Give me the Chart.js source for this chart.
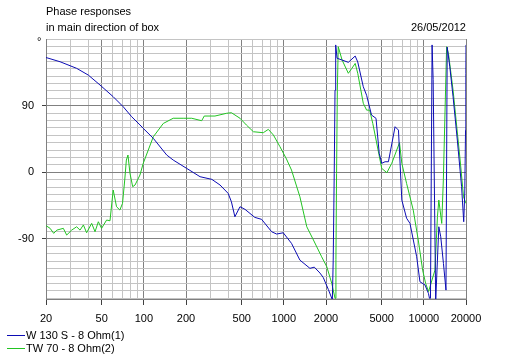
<!DOCTYPE html>
<html><head><meta charset="utf-8">
<script src="https://cdn.jsdelivr.net/npm/chart.js@4.4.1/dist/chart.umd.min.js"></script>
<style>
html,body{margin:0;padding:0;background:#fff;width:511px;height:361px;overflow:hidden;}
#wrap{position:relative;width:511px;height:361px;}
canvas{position:absolute;left:0;top:0;}
.t{position:absolute;font-family:"Liberation Sans",Arial,sans-serif;font-size:11px;line-height:13px;color:#000;white-space:nowrap;}
.ln{position:absolute;height:1px;width:18px;}
</style></head><body>
<div id="wrap">
<canvas id="c" width="511" height="361"></canvas>
<div class="t" style="left:46px;top:5px">Phase responses</div>
<div class="t" style="left:46px;top:21px">in main direction of box</div>
<div class="t" style="right:45px;top:21px">26/05/2012</div>
<div class="t" style="left:37px;top:35px">°</div>
<div id="legend"></div>
</div>
<script>
// ---- data ----
const seriesNames = ['W 130 S - 8 Ohm(1)', 'TW 70 - 8 Ohm(2)'];

const xTickValues = [20,30,40,50,60,70,80,90,100,200,300,400,500,600,700,800,900,
  1000,2000,3000,4000,5000,6000,7000,8000,9000,10000,20000];
const xTickLabels = [20,50,100,200,500,1000,2000,5000,10000,20000];
const yTickLabels = [-90,0,90];

const wooferFreq = [
  20,25.2,33.1,40.1,48.6,60.4,71.2,81.8,93.8,99,
  116.8,145.6,162,202,252,306,350,400,422,447,
  486,528,620,694,818,888,990,1134,1302,1536,
  1650,1812,1912,2077,2220,2252,2290,2320,2346,2400,
  2518,2888,3232,3371,3692,3901,4226,4552,4800,5000,
  5284,5582,6229,6588,6960,7529,7959,8886,9376,10185,
  10780,10965,11150,11450,11650,12150,12790,13200,13800,14390,
  14680,15320,16170,17340,18600,19260,19600,19850,19950,20000];
const wooferPhase = [
  155,149.3,140.4,131.3,117.9,102.1,88.6,75.1,64,59.4,
  45.9,23.4,16.6,5.4,-5.9,-9.5,-17.1,-28.4,-39.7,-60,
  -46.4,-50,-60.8,-63.5,-80.2,-83.3,-81.6,-95.9,-118.5,-129.6,
  -128,-136,-142,-158,-172,-118.5,-1.4,111,172,154,
  152.6,148.5,157,149,115.6,104,77.4,72.9,25.7,12.2,
  14.3,14.3,61.6,57,-37.4,-62,-68.9,-114,-147.7,-152,
  -163.4,-170,-170,172,125,-174,-73.5,-87,-123,-159,
  169,142.6,102,43.6,-19.4,-66.7,-28,57,133.7,172];

const tweeterFreq = [
  20,21.4,22.7,23.9,26.6,28.1,30.5,33.1,35.0,37.0,
  39.0,42.4,44.8,47.3,49.9,54.2,57.3,60.4,63.8,67.4,
  70.4,73.0,75.0,77.0,79.6,83.2,86.5,93.8,99,116.8,
  137.7,162,190.8,219.6,259,270,322,390,422,486,
  540,606,713,775,842,938,1044,1134,1302,1458,
  1627,1862,2027,2200,2320,2355,2380,2410,2446,2606,
  2888,3050,3232,3371,3692,3901,4100,4318,5000,5440,
  5900,6700,6960,7529,8400,9120,9800,10300,10800,12000,
  12500,12790,13420,13780,14540,15000,16170,18160,19200,20000];
const tweeterPhase = [
  -72,-75.6,-82.4,-78,-75.6,-84.7,-78,-73.5,-78,-71,
  -81.6,-68.9,-80.2,-66.7,-75.6,-64.4,-65.4,-23.9,-46.4,-50.9,
  -41.9,-10.4,16.6,23.4,-1.4,-19.4,-17.1,-3.6,12.2,48,
  66,73,73,73,69.7,76,76,79.7,80.5,73,
  63.9,54.8,53.5,58,50.4,34.6,18,3.1,-33,-73.5,
  -91.4,-114,-127.5,-150,-170,-118,-1.4,111,169.6,151.6,
  133.7,140,147,133.7,93.2,84,84,66,5.4,-0.5,
  12.2,40,12.2,-15,-51,-91.4,-132,-150,-161,-132,
  -60,-37.4,-69,-10,169.6,160,111,16.6,-33,-42];

// ---- build chart ----
const colors = ['#0c0cb4', '#22c422'];
const toXY = (fs, vs) => fs.map((f, i) => ({x: f, y: vs[i]}));
const FONT = {family: '"Liberation Sans", Arial, sans-serif', size: 11};
const yTicks = [];
for (let v = -170; v <= 180; v += 10) yTicks.push(v);

new Chart(document.getElementById('c'), {
  type: 'line',
  data: {
    datasets: [
      {label: seriesNames[0], data: toXY(wooferFreq, wooferPhase), borderColor: colors[0]},
      {label: seriesNames[1], data: toXY(tweeterFreq, tweeterPhase), borderColor: colors[1]}
    ]
  },
  options: {
    responsive: false,
    animation: false,
    devicePixelRatio: 1,
    parsing: true,
    elements: {line: {borderWidth: 1, tension: 0, fill: false}, point: {radius: 0}},
    layout: {padding: {left: 0, top: 39, right: 45, bottom: 0}},
    plugins: {legend: {display: false}, tooltip: {enabled: false}, title: {display: false}},
    scales: {
      x: {
        type: 'logarithmic', min: 20, max: 20000,
        afterBuildTicks: s => { s.ticks = xTickValues.map(v => ({value: v})); },
        afterFit: s => { s.height = 62; },
        ticks: {
          autoSkip: false, maxRotation: 0, color: '#000', font: FONT, padding: 7,
          callback: v => xTickLabels.includes(v) ? String(v) : ''
        },
        grid: {
          color: c => xTickLabels.includes(c.tick && c.tick.value) ? '#808080' : '#c4c4c4',
          tickColor: c => xTickLabels.includes(c.tick && c.tick.value) ? '#404040' : 'rgba(0,0,0,0)',
          tickLength: 6, lineWidth: 1
        },
        border: {display: true, color: '#808080', width: 1}
      },
      y: {
        type: 'linear', min: -171, max: 180,
        afterBuildTicks: s => { s.ticks = yTicks.map(v => ({value: v})); },
        afterFit: s => { s.width = 46; },
        ticks: {
          autoSkip: false, color: '#000', font: FONT, padding: 8,
          callback: v => yTickLabels.includes(v) ? String(v) : ''
        },
        grid: {
          color: c => yTickLabels.includes(c.tick && c.tick.value) ? '#808080' : '#c4c4c4',
          tickColor: c => yTickLabels.includes(c.tick && c.tick.value) ? '#404040' : 'rgba(0,0,0,0)',
          tickLength: 4, lineWidth: 1
        },
        border: {display: true, color: '#808080', width: 1}
      }
    }
  }
});

// legend (HTML text)
const lg = document.getElementById('legend');
seriesNames.forEach((name, i) => {
  const ln = document.createElement('div');
  ln.className = 'ln';
  ln.style.left = '7px'; ln.style.top = (335 + 13 * i) + 'px';
  ln.style.background = colors[i];
  lg.appendChild(ln);
  const t = document.createElement('div');
  t.className = 't';
  t.style.left = '26px'; t.style.top = (329 + 13 * i) + 'px';
  t.textContent = name;
  lg.appendChild(t);
});
</script>
</body></html>
